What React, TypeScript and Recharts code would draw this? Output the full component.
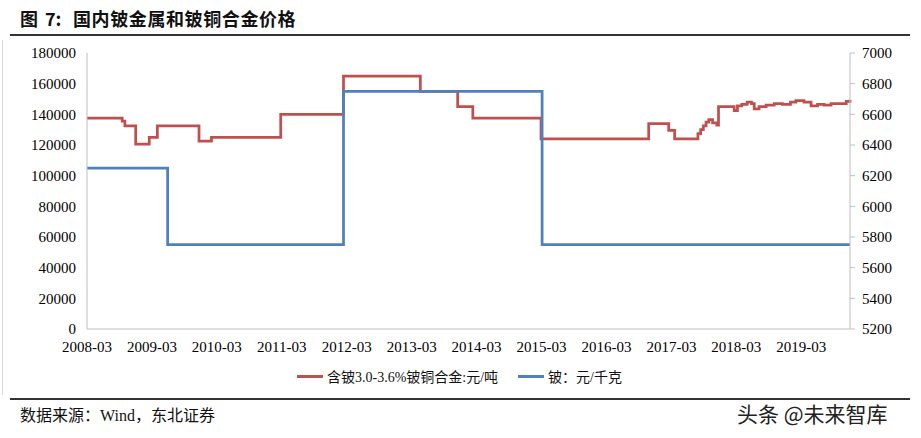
import React from "react";
import { LineChart, Line, XAxis, YAxis } from "recharts";

// x = months since 2008-03
const tickMonths = [0, 12, 24, 36, 48, 60, 72, 84, 96, 108, 120, 132];
const tickLabels = [
  "2008-03", "2009-03", "2010-03", "2011-03", "2012-03", "2013-03",
  "2014-03", "2015-03", "2016-03", "2017-03", "2018-03", "2019-03",
];

// 含铍3.0-3.6%铍铜合金 (元/吨), change points
const alloyMonths = [
  0, 6.5, 7, 9, 11.5, 13, 20.7, 23, 35.8, 47.4, 61.6, 68.5, 71.3, 83.9,
  103.8, 107.5, 108.6, 112.9, 113.4, 113.9, 114.4, 114.9, 115.6, 116.4, 116.7, 119.6,
  120.2, 121, 122, 122.8, 123.3, 124.2, 125.5, 127, 128.5, 130, 131, 132.5,
  133.8, 135, 136.2, 137.5, 139, 140.3, 141,
];
const alloyValues = [
  137500, 135500, 132500, 120500, 125000, 132500, 122500, 125000, 140000,
  165000, 155000, 145000, 137500, 124000, 134000, 129500, 124000, 127500,
  130000, 132500, 135000, 136500, 134500, 133000, 145000, 142500, 145500, 146500, 148000,
  147000, 143500, 145000, 146000, 147000, 146500, 148000, 149000, 148000,
  145500, 146500, 146000, 147000, 147000, 148500, 149500,
];

// 铍 (元/千克), change points
const berylliumMonths = [0, 14.9, 47.4, 84.1, 141];
const berylliumValues = [6250, 5750, 6750, 5750, 5750];

const alloyName = "含铍3.0-3.6%铍铜合金:元/吨";
const berylliumName = "铍：元/千克";

const alloyData = alloyMonths.map((m, i) => ({ m, v: alloyValues[i] }));
const berylliumData = berylliumMonths.map((m, i) => ({ m, v: berylliumValues[i] }));

const RED = "#C0504D";
const BLUE = "#4F81BD";
const AXIS = "#BFBFBF";
const SERIF = "'Liberation Serif', 'Noto Sans CJK SC', serif";
const CJK = "'Noto Sans CJK SC', sans-serif";

const tickStyle = { fill: "#000", fontSize: 15, fontFamily: SERIF };

export default function App() {
  const titleStyle: React.CSSProperties = {
    position: "absolute",
    top: 5,
    fontFamily: CJK,
    fontWeight: 700,
    fontSize: 18,
    color: "#111",
    whiteSpace: "nowrap",
  };
  return (
    <div
      style={{
        position: "absolute",
        left: 0,
        top: 0,
        width: 921,
        height: 438,
        background: "#fff",
        overflow: "hidden",
      }}
    >
      {/* title */}
      <div style={{ ...titleStyle, left: 20 }}>图</div>
      <div style={{ ...titleStyle, left: 45 }}>7:</div>
      <div style={{ ...titleStyle, left: 73, letterSpacing: 0.6 }}>国内铍金属和铍铜合金价格</div>
      <div style={{ position: "absolute", left: 10, top: 34, width: 900, height: 1.5, background: "#333" }} />
      <div style={{ position: "absolute", left: 2, top: 40, width: 1, height: 355, background: "#d9d9d9" }} />

      <div style={{ position: "absolute", left: 0, top: 0 }}>
        <LineChart
          width={921}
          height={438}
          margin={{ top: 53, right: 0, left: 0, bottom: 79 }}
        >
          <XAxis
            dataKey="m"
            type="number"
            domain={[0, 141]}
            ticks={tickMonths}
            tickFormatter={(v) => tickLabels[tickMonths.indexOf(v)] ?? ""}
            tickLine={false}
            tickSize={6}
            tickMargin={6}
            height={30}
            stroke={AXIS}
            tick={tickStyle}
            allowDuplicatedCategory={false}
          />
          <YAxis
            yAxisId="left"
            domain={[0, 180000]}
            ticks={[0, 20000, 40000, 60000, 80000, 100000, 120000, 140000, 160000, 180000]}
            width={87}
            tickLine={false}
            tickSize={6}
            tickMargin={5}
            stroke={AXIS}
            tick={tickStyle}
          />
          <YAxis
            yAxisId="right"
            orientation="right"
            domain={[5200, 7000]}
            ticks={[5200, 5400, 5600, 5800, 6000, 6200, 6400, 6600, 6800, 7000]}
            width={71}
            tickSize={5}
            tickMargin={7}
            stroke={AXIS}
            tick={tickStyle}
          />
          <Line
            yAxisId="left"
            data={alloyData}
            dataKey="v"
            name={alloyName}
            type="stepAfter"
            stroke={RED}
            strokeWidth={2.75}
            dot={false}
            isAnimationActive={false}
          />
          <Line
            yAxisId="right"
            data={berylliumData}
            dataKey="v"
            name={berylliumName}
            type="stepAfter"
            stroke={BLUE}
            strokeWidth={2.75}
            dot={false}
            isAnimationActive={false}
          />
        </LineChart>
      </div>

      {/* legend */}
      <div
        style={{
          position: "absolute",
          left: 297,
          top: 366,
          display: "flex",
          alignItems: "center",
          fontFamily: SERIF,
          fontSize: 14,
          color: "#111",
          whiteSpace: "nowrap",
        }}
      >
        <span style={{ display: "inline-block", width: 26, height: 3, background: RED, marginRight: 4 }} />
        <span style={{ marginRight: 20 }}>{alloyName}</span>
        <span style={{ display: "inline-block", width: 26, height: 3, background: BLUE, marginRight: 4 }} />
        <span>{berylliumName}</span>
      </div>

      <div style={{ position: "absolute", left: 10, top: 398, width: 900, height: 1.5, background: "#333" }} />
      <div
        style={{
          position: "absolute",
          left: 20,
          top: 402,
          fontFamily: SERIF,
          fontSize: 16,
          color: "#111",
        }}
      >
        数据来源：Wind，东北证券
      </div>
      <div
        style={{
          position: "absolute",
          left: 737,
          top: 398,
          fontFamily: CJK,
          fontSize: 21,
          color: "#222",
          whiteSpace: "pre",
        }}
      >
        头条 @未来智库
      </div>
    </div>
  );
}
